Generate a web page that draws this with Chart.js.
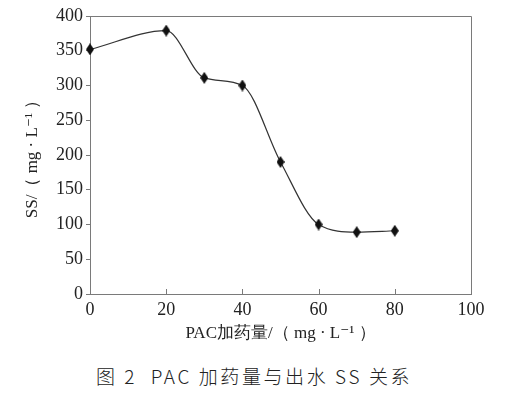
<!DOCTYPE html>
<html>
<head>
<meta charset="utf-8">
<script src="https://cdn.jsdelivr.net/npm/chart.js@4.4.1/dist/chart.umd.min.js"></script>
<style>
    html, body { margin: 0; padding: 0; background: #fff; }
    #wrap { position: relative; width: 521px; height: 350px; }
    #caption {
        position: absolute; left: 0; top: 362px; width: 508px;
        text-align: center;
        font-family: "Noto Sans CJK SC", "Noto Sans", sans-serif;
        font-size: 19px; font-weight: 300; letter-spacing: 2.6px; color: #222;
        white-space: pre;
    }
</style>
</head>
<body>
<div id="wrap"><canvas id="chart"></canvas></div>
<div id="caption">图 2  PAC 加药量与出水 SS 关系</div>
<script>
// ── Data ──────────────────────────────────────────────────

const dosage = [0, 20, 30, 40, 50, 60, 70, 80];
const ssValues = [352, 379, 311, 300, 190, 100, 89, 91];
const xTicks = [0, 20, 40, 60, 80, 100];
const yTicks = [0, 50, 100, 150, 200, 250, 300, 350, 400];

// ── Helpers ──────────────────────────────────────────────

function makeDiamond(w, h) {
    const c = document.createElement('canvas');
    c.width = w;
    c.height = h;
    const g = c.getContext('2d');
    g.fillStyle = '#111';
    g.beginPath();
    g.moveTo(w / 2, 0);
    g.lineTo(w, h / 2);
    g.lineTo(w / 2, h);
    g.lineTo(0, h / 2);
    g.closePath();
    g.fill();
    return c;
}

const axisColor = '#7a7a7a';
const serif = '"Liberation Serif", "DejaVu Serif", serif';

// frame (top/right border) and inward x tick marks
const framePlugin = {
    id: 'frame',
    afterDraw(chart) {
        const { ctx, chartArea: a, scales } = chart;
        ctx.save();
        ctx.strokeStyle = axisColor;
        ctx.lineWidth = 1;
        ctx.beginPath();
        ctx.moveTo(a.left, a.top + 0.5);
        ctx.lineTo(a.right + 0.5, a.top + 0.5);
        ctx.lineTo(a.right + 0.5, a.bottom);
        xTicks.slice(1, -1).forEach(v => {
            const px = Math.round(scales.x.getPixelForValue(v)) + 0.5;
            ctx.moveTo(px, a.bottom);
            ctx.lineTo(px, a.bottom - 5);
        });
        ctx.stroke();
        ctx.restore();
    }
};

// ── Chart ─────────────────────────────────────────────────

const ctx = document.getElementById('chart').getContext('2d');

new Chart(ctx, {
    type: 'line',
    data: {
        datasets: [{
            data: dosage.map((x, i) => ({ x, y: ssValues[i] })),
            borderColor: '#333',
            borderWidth: 1.2,
            cubicInterpolationMode: 'monotone',
            pointStyle: makeDiamond(8, 12),
            pointRadius: 6,
            clip: false
        }]
    },
    options: {
        responsive: true,
        maintainAspectRatio: false,
        animation: false,
        layout: { padding: { left: 0, right: 50, top: 16, bottom: 0 } },
        plugins: {
            legend: { display: false },
            tooltip: { enabled: false }
        },
        scales: {
            x: {
                type: 'linear',
                min: 0,
                max: 100,
                afterBuildTicks: s => { s.ticks = xTicks.map(v => ({ value: v })); },
                afterFit: s => { s.height = 56; },
                border: { color: axisColor, width: 1 },
                grid: { display: true, drawOnChartArea: false, drawTicks: false },
                ticks: {
                    padding: 5,
                    color: '#222',
                    font: { family: serif, size: 18 }
                },
                title: {
                    display: true,
                    text: 'PAC加药量/（ mg · L⁻¹ ）',
                    color: '#222',
                    padding: { top: 0, bottom: 6 },
                    font: { family: serif, size: 17 }
                }
            },
            y: {
                min: 0,
                max: 400,
                afterBuildTicks: s => { s.ticks = yTicks.map(v => ({ value: v })); },
                afterFit: s => { s.width = 90; },
                border: { color: axisColor, width: 1 },
                grid: { drawOnChartArea: false, color: axisColor, tickLength: 4 },
                ticks: {
                    padding: 3,
                    color: '#222',
                    font: { family: serif, size: 18 }
                },
                title: {
                    display: true,
                    text: 'SS/（ mg · L⁻¹ ）',
                    color: '#222',
                    padding: { top: 22, bottom: 0 },
                    font: { family: serif, size: 17 }
                }
            }
        }
    },
    plugins: [framePlugin]
});
</script>
</body>
</html>
